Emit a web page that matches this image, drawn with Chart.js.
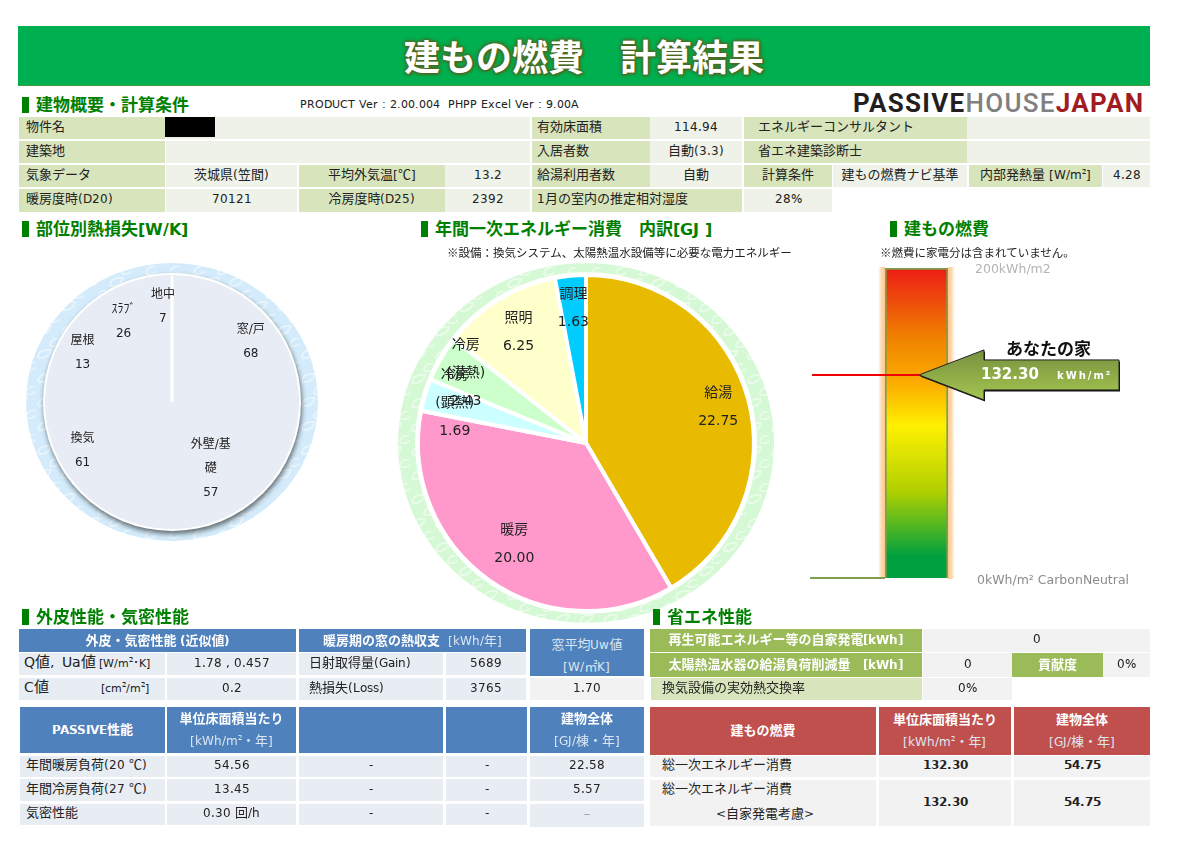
<!DOCTYPE html>
<html lang="ja">
<head>
<meta charset="utf-8">
<title>建もの燃費 計算結果</title>
<script src="https://cdn.jsdelivr.net/npm/chart.js@4"></script>
<style>
  @font-face { font-family: "LatinD"; src: local("DejaVu Sans"); size-adjust: 92%; unicode-range: U+0020-007E; }
  @font-face { font-family: "LatinD"; src: local("DejaVu Sans Bold"); font-weight: bold; size-adjust: 92%; unicode-range: U+0020-007E; }
  html, body { margin: 0; padding: 0; background: #fff; }
  #page { position: relative; width: 1200px; height: 848px; overflow: hidden;
    font-family: "LatinD", "Noto Sans CJK JP", sans-serif; font-size: 13px; color: #222; }
  canvas { position: absolute; }
  .c { position: absolute; display: flex; align-items: center; justify-content: center; padding-bottom: 2px;
    box-sizing: border-box; white-space: nowrap; text-align: center; line-height: 25px; }
  .left { justify-content: flex-start; }
  .lab { background: #d8e4bc; }
  .val { background: #eef2e8; }
  .blue { background: #4f81bd; color: #fff; font-weight: bold; line-height: 22px; padding-bottom: 0; }
  .pale { background: #e8edf4; }
  .grey { background: #f2f2f2; }
  .green { background: #9bbb59; color: #fff; font-weight: bold; padding-bottom: 0; }
  .red { background: #c0504d; color: #fff; font-weight: bold; line-height: 22px; padding-bottom: 0; }
  .unit { color: #dce6f1; font-weight: normal; }
  .sec { position: absolute; font-size: 17px; font-weight: bold; color: #008000; white-space: nowrap; line-height: 20px; }
  .mark { position: absolute; width: 7px; height: 16px; background: #008000; }
  sup { font-size: 8px; line-height: 0; }
  #banner { position: absolute; left: 18px; top: 26px; width: 1132px; height: 60px; background: #00b050;
    border-bottom: 1px solid #3a9a3a; box-sizing: border-box; text-align: center; line-height: 67px;
    font-size: 36px; font-weight: bold; color: #fff;
    text-shadow: 0 0 2px #4c6a24, 0 0 3px #4c6a24, 0 0 4px #4c6a24, 0 0 4px #4c6a24, 1px 1px 2px #4c6a24; }
  #logo { position: absolute; left: 853px; top: 88px; font: bold 26px Roboto, sans-serif; line-height: 30px;
    letter-spacing: 1.3px; white-space: nowrap; color: #231f20; }
  #logo .h { color: #808080; font-weight: 500; }
  #logo .j { color: #a01c22; }
  .note { position: absolute; font-size: 11.5px; white-space: nowrap; line-height: 14px; }
</style>
</head>
<body>
<div id="page">
  <canvas id="chart-heat" width="320" height="320" style="left:12px;top:242px"></canvas>
  <canvas id="chart-energy" width="400" height="400" style="left:386px;top:243px"></canvas>
  <canvas id="chart-gauge" width="350" height="360" style="left:800px;top:240px"></canvas>
  <div id="banner">建もの燃費　計算結果</div>
  <div id="logo">PASSIVE<span class="h">HOUSE</span><span class="j">JAPAN</span></div>
</div>
<script>
const heatLabels = ["窓/戸", "外壁/基\n礎", "換気", "屋根", "ｽﾗﾌﾞ", "地中"];
const heatValues = [68, 57, 61, 13, 26, 7];
const energyLabels = ["給湯", "暖房", "冷房\n(顕熱)", "冷房\n(潜熱)", "照明", "調理"];
const energyValues = [22.75, 20.0, 1.69, 2.43, 6.25, 1.63];
const gaugeMax = [200];
const houseValue = 132.3;

const heatLabelRadius = [99, 77, 102, 102, 94, 96];
const energyLabelRadius = [137, 124, 137, 139, 130, 135];
const energyColors = ["#e8bb00", "#ff99cc", "#ccffff", "#ccffcc", "#ffffcc", "#00ccff"];

const passiveNames = ["年間暖房負荷(20 ℃)", "年間冷房負荷(27 ℃)", "気密性能"];
const passiveUnit = ["54.56", "13.45", "0.30 回/h"];
const passiveTotal = ["22.58", "5.57", "–"];

const FONT = '"DejaVu Sans", "Noto Sans CJK JP", sans-serif';
const page = document.getElementById("page");

Chart.defaults.animation = false;
Chart.defaults.responsive = false;
Chart.defaults.font.family = FONT;
Chart.defaults.plugins.legend.display = false;
Chart.defaults.plugins.tooltip.enabled = false;

function cell(x, y, x2, y2, cls, html, pad) {
  const d = document.createElement("div");
  d.className = "c " + cls;
  d.style.cssText = `left:${x}px;top:${y}px;width:${x2 - x}px;height:${y2 - y}px;`;
  if (pad !== undefined) {
    d.classList.add("left");
    d.style.paddingLeft = pad + "px";
  }
  d.innerHTML = `<div>${html}</div>`;
  page.appendChild(d);
  return d;
}

function section(x, y, text) {
  const m = document.createElement("div");
  m.className = "mark";
  m.style.cssText = `left:${x}px;top:${y}px`;
  page.appendChild(m);
  const s = document.createElement("div");
  s.className = "sec";
  s.style.cssText = `left:${x + 14}px;top:${y - 1}px`;
  s.textContent = text;
  page.appendChild(s);
}

function note(x, y, text) {
  const n = document.createElement("div");
  n.className = "note";
  n.style.cssText = `left:${x}px;top:${y}px`;
  n.textContent = text;
  page.appendChild(n);
  return n;
}

// leaf tile for the rings behind the pies
function leafPattern(ctx, base, line) {
  const tile = document.createElement("canvas");
  tile.width = 24;
  tile.height = 24;
  const t = tile.getContext("2d");
  t.fillStyle = base;
  t.fillRect(0, 0, 24, 24);
  t.strokeStyle = line;
  t.lineWidth = 1.6;
  [[2, 20], [14, 8]].forEach(([x, y]) => {
    t.beginPath();
    t.moveTo(x, y);
    t.quadraticCurveTo(x, y - 9, x + 13, y - 8);
    t.quadraticCurveTo(x + 11, y + 1, x, y);
    t.stroke();
  });
  return ctx.createPattern(tile, "repeat");
}

const ringPlugin = {
  id: "ring",
  beforeDatasetsDraw(chart, args, opts) {
    const arc = chart.getDatasetMeta(0).data[0];
    const ctx = chart.ctx;
    ctx.save();
    ctx.fillStyle = leafPattern(ctx, opts.base, opts.line);
    ctx.beginPath();
    ctx.ellipse(arc.x, arc.y, opts.outerX, opts.outerY, 0, 0, Math.PI * 2);
    ctx.fill();
    if (opts.shadow) {
      ctx.shadowColor = "rgba(0,0,0,0.55)";
      ctx.shadowBlur = 5;
      ctx.shadowOffsetX = 1;
      ctx.shadowOffsetY = 3;
    }
    ctx.fillStyle = "#fff";
    ctx.beginPath();
    ctx.arc(arc.x, arc.y, opts.inner, 0, Math.PI * 2);
    ctx.fill();
    ctx.restore();
  },
};

const labelPlugin = {
  id: "sliceLabels",
  afterDatasetsDraw(chart, args, opts) {
    const ctx = chart.ctx;
    const meta = chart.getDatasetMeta(0);
    const { labels, datasets } = chart.data;
    ctx.save();
    if (opts.divider) {
      const a = meta.data[0];
      ctx.strokeStyle = "#fff";
      ctx.lineWidth = 3;
      ctx.beginPath();
      ctx.moveTo(a.x, a.y);
      ctx.lineTo(a.x + Math.cos(a.startAngle) * a.outerRadius, a.y + Math.sin(a.startAngle) * a.outerRadius);
      ctx.stroke();
    }
    ctx.font = `${opts.size}px ${FONT}`;
    ctx.fillStyle = "#222";
    ctx.textAlign = "center";
    ctx.textBaseline = "middle";
    meta.data.forEach((a, i) => {
      const mid = (a.startAngle + a.endAngle) / 2;
      const x = a.x + Math.cos(mid) * opts.radius[i];
      const y = a.y + Math.sin(mid) * opts.radius[i];
      const value = opts.decimals ? datasets[0].data[i].toFixed(opts.decimals) : String(datasets[0].data[i]);
      const lines = labels[i].split("\n").concat(value);
      lines.forEach((line, n) => {
        ctx.fillText(line, x, y + (n - (lines.length - 1) / 2) * opts.lineHeight);
      });
    });
    ctx.restore();
  },
};

new Chart(document.getElementById("chart-heat"), {
  type: "pie",
  data: {
    labels: heatLabels,
    datasets: [{ data: heatValues, backgroundColor: "#e8ecf4", borderColor: "#e8ecf4", borderWidth: 1 }],
  },
  options: {
    layout: { padding: 33 },
    plugins: {
      ring: { outerX: 146, outerY: 139, inner: 129, base: "#d3ebfa", line: "#e9f6fd", shadow: true },
      sliceLabels: { radius: heatLabelRadius, size: 12, lineHeight: 24, divider: true },
    },
  },
  plugins: [ringPlugin, labelPlugin],
});

new Chart(document.getElementById("chart-energy"), {
  type: "pie",
  data: {
    labels: energyLabels,
    datasets: [{ data: energyValues, backgroundColor: energyColors, borderColor: "#fff", borderWidth: 4 }],
  },
  options: {
    layout: { padding: 30 },
    plugins: {
      ring: { outerX: 188, outerY: 180, inner: 171, base: "#d5f8d5", line: "#ecfcec" },
      sliceLabels: { radius: energyLabelRadius, size: 14, lineHeight: 28, decimals: 2 },
    },
  },
  plugins: [ringPlugin, labelPlugin],
});

const gaugePlugin = {
  id: "gaugeMarks",
  beforeDatasetsDraw(chart) {
    const { ctx, chartArea: a } = chart;
    ctx.save();
    const glow = (x1, x2) => {
      const g = ctx.createLinearGradient(x1, 0, x2, 0);
      g.addColorStop(0, "#fcc88c");
      g.addColorStop(0.5, "#fdd9b0");
      g.addColorStop(1, "#ffffff");
      ctx.fillStyle = g;
      ctx.fillRect(Math.min(x1, x2), a.top - 1, Math.abs(x2 - x1), a.bottom - a.top + 2);
    };
    glow(a.left, a.left - 7);
    glow(a.right, a.right + 7);
    ctx.restore();
  },
  afterDatasetsDraw(chart) {
    const { ctx, chartArea: a, scales } = chart;
    // the pointer sits a touch under the exact value in the original sheet
    const y = scales.y.getPixelForValue(houseValue) + 2;
    const tip = a.left + 34;
    ctx.save();
    ctx.strokeStyle = "#7f9f4f";
    ctx.lineWidth = 2;
    ctx.beginPath();
    ctx.moveTo(a.left - 75, a.bottom);
    ctx.lineTo(a.left, a.bottom);
    ctx.stroke();
    ctx.strokeStyle = "#f00000";
    ctx.lineWidth = 2;
    ctx.beginPath();
    ctx.moveTo(a.left - 73, y);
    ctx.lineTo(tip, y);
    ctx.stroke();

    const arrow = (dx, dy) => {
      ctx.beginPath();
      ctx.moveTo(tip + dx, y + dy);
      ctx.lineTo(tip + 65 + dx, y - 25 + dy);
      ctx.lineTo(tip + 65 + dx, y - 15 + dy);
      ctx.lineTo(tip + 200 + dx, y - 15 + dy);
      ctx.lineTo(tip + 200 + dx, y + 15 + dy);
      ctx.lineTo(tip + 65 + dx, y + 15 + dy);
      ctx.lineTo(tip + 65 + dx, y + 25 + dy);
      ctx.closePath();
    };
    ctx.fillStyle = "#111";
    arrow(1, 1.5);
    ctx.fill();
    const g = ctx.createLinearGradient(0, y - 25, 0, y + 25);
    g.addColorStop(0, "#76903f");
    g.addColorStop(1, "#a6c650");
    ctx.fillStyle = g;
    arrow(0, 0);
    ctx.fill();
    ctx.strokeStyle = "#222";
    ctx.lineWidth = 1;
    ctx.stroke();

    ctx.textBaseline = "middle";
    ctx.textAlign = "left";
    ctx.fillStyle = "#111";
    ctx.font = `bold 17px ${FONT}`;
    ctx.fillText("あなたの家", tip + 87, y - 24);
    ctx.fillStyle = "#fff";
    ctx.font = `bold 15px ${FONT}`;
    ctx.fillText(houseValue.toFixed(2), tip + 62, y);
    ctx.font = `bold 10px ${FONT}`;
    ctx.letterSpacing = "2px";
    ctx.fillText("kWh/m²", tip + 138, y + 1);
    ctx.letterSpacing = "0px";

    ctx.fillStyle = "#b4b4b4";
    ctx.font = `12.5px ${FONT}`;
    ctx.fillText("200kWh/m2", a.right + 27, scales.y.getPixelForValue(gaugeMax[0]) + 2);
    ctx.fillStyle = "#8c8c8c";
    ctx.fillText("0kWh/m² CarbonNeutral", a.right + 29, scales.y.getPixelForValue(0) + 3);
    ctx.restore();
  },
};

function gaugeGradient(context) {
  const a = context.chart.chartArea;
  if (!a) return "#ff0";
  const g = context.chart.ctx.createLinearGradient(0, a.top, 0, a.bottom);
  g.addColorStop(0, "#ec1c16");
  g.addColorStop(0.22, "#f08000");
  g.addColorStop(0.38, "#fbb000");
  g.addColorStop(0.51, "#fff000");
  g.addColorStop(0.72, "#b0d000");
  g.addColorStop(0.93, "#00a040");
  g.addColorStop(1, "#00a040");
  return g;
}

new Chart(document.getElementById("chart-gauge"), {
  type: "bar",
  data: {
    labels: [""],
    datasets: [{ data: gaugeMax, backgroundColor: gaugeGradient, borderColor: "#7f9f4f", borderWidth: 2, barPercentage: 1, categoryPercentage: 1 }],
  },
  options: {
    layout: { padding: { left: 85, right: 202, top: 28, bottom: 22 } },
    scales: {
      x: { display: false },
      y: { display: false, min: 0, max: gaugeMax[0] },
    },
  },
  plugins: [gaugePlugin],
});

// ---- header tables
section(22, 97, "建物概要・計算条件");
note(300, 97, "PRODUCT Ver : 2.00.004  PHPP Excel Ver : 9.00A").style.whiteSpace = "pre";

cell(19, 117, 165, 139, "lab", "物件名", 7);
cell(166, 117, 530, 139, "val", "");
cell(165, 117, 215, 137, "", "").style.background = "#000";
cell(19, 141, 165, 163, "lab", "建築地", 7);
cell(166, 141, 530, 163, "val", "");
cell(19, 165, 165, 187, "lab", "気象データ", 7);
cell(166, 165, 297, 187, "val", "茨城県(笠間)");
cell(299, 165, 445, 187, "lab", "平均外気温[℃]");
cell(445, 165, 530, 187, "val", "13.2");
cell(19, 189, 165, 212, "lab", "暖房度時(D20)", 7);
cell(166, 189, 297, 212, "val", "70121");
cell(299, 189, 445, 212, "lab", "冷房度時(D25)");
cell(445, 189, 530, 212, "val", "2392");

cell(532, 117, 650, 139, "lab", "有効床面積", 5);
cell(650, 117, 742, 139, "val", "114.94");
cell(744, 117, 967, 139, "lab", "エネルギーコンサルタント", 14);
cell(967, 117, 1150, 139, "val", "");
cell(532, 141, 650, 163, "lab", "入居者数", 5);
cell(650, 141, 742, 163, "val", "自動(3.3)");
cell(744, 141, 967, 163, "lab", "省エネ建築診断士", 14);
cell(967, 141, 1150, 163, "val", "");
cell(532, 165, 650, 187, "lab", "給湯利用者数", 5);
cell(650, 165, 742, 187, "val", "自動");
cell(744, 165, 832, 187, "lab", "計算条件");
cell(833, 165, 967, 187, "val", "建もの燃費ナビ基準");
cell(969, 165, 1102, 187, "lab", "内部発熱量 [W/m<sup>2</sup>]");
cell(1103, 165, 1150, 187, "val", "4.28");
cell(532, 189, 742, 212, "lab", "1月の室内の推定相対湿度", 5);
cell(744, 189, 832, 212, "val", "28%");

section(22, 221, "部位別熱損失[W/K]");
section(421, 221, "年間一次エネルギー消費　内訳[GJ ]");
section(890, 221, "建もの燃費");
note(447, 246, "※設備：換気システム、太陽熱温水設備等に必要な電力エネルギー");
note(880, 246, "※燃費に家電分は含まれていません。");

// ---- envelope tables
section(22, 609, "外皮性能・気密性能");
cell(19, 629, 296, 652, "blue", "外皮・気密性能 (近似値)");
cell(299, 629, 526, 652, "blue", '暖房期の窓の熱収支 <span class="unit">&nbsp;[kWh/年]</span>');
cell(530, 629, 644, 676, "blue", '<span class="unit">窓平均Uw値<br>[W/㎡K]</span>').style.paddingTop = "6px";

cell(19, 653, 165, 675, "pale", '<span style="font-size:15px">Q値,&nbsp; Ua値</span>&nbsp;<span style="font-size:12px">[W/m<sup>2</sup>･K]</span>', 5);
cell(167, 653, 296, 675, "pale", "1.78 , 0.457");
cell(299, 653, 443, 675, "pale", "日射取得量(Gain)", 10);
cell(446, 653, 526, 675, "pale", "5689");
cell(19, 678, 165, 700, "pale", '<span style="font-size:15px">C値</span><span style="font-size:12px;margin-left:52px">[cm<sup>2</sup>/m<sup>2</sup>]</span>', 5);
cell(167, 678, 296, 700, "pale", "0.2");
cell(299, 678, 443, 700, "pale", "熱損失(Loss)", 10);
cell(446, 678, 526, 700, "pale", "3765");
cell(530, 678, 644, 700, "grey", "1.70");

cell(20, 707, 165, 753, "blue", "PASSIVE性能");
cell(167, 707, 296, 753, "blue", '単位床面積当たり<br><span class="unit">[kWh/m<sup>2</sup>・年]</span>');
cell(299, 707, 443, 753, "blue", "");
cell(446, 707, 527, 753, "blue", "");
cell(530, 707, 644, 753, "blue", '建物全体<br><span class="unit">[GJ/棟・年]</span>');

const passiveRows = [[756, 777], [779, 801], [804, 825]];
passiveRows.forEach(([top, bottom], i) => {
  cell(20, top, 165, bottom, "pale", passiveNames[i], 6);
  cell(167, top, 296, bottom, "pale", passiveUnit[i]);
  cell(299, top, 443, bottom, "pale", "-");
  cell(446, top, 527, bottom, "pale", "-");
  const total = cell(530, top, 644, i === 2 ? 827 : bottom, "pale", passiveTotal[i]);
  if (i === 2) total.style.color = "#999";
});

// ---- energy saving tables
section(653, 609, "省エネ性能");
cell(650, 629, 922, 652, "green", "再生可能エネルギー等の自家発電[kWh]");
cell(923, 629, 1150, 652, "grey", "0");
cell(650, 653, 922, 677, "green", "太陽熱温水器の給湯負荷削減量　[kWh]");
cell(923, 653, 1012, 677, "grey", "0");
cell(1012, 653, 1103, 677, "green", "貢献度");
cell(1103, 653, 1150, 677, "grey", "0%");
cell(651, 678, 922, 700, "lab", "換気設備の実効熱交換率", 11);
cell(923, 678, 1012, 700, "grey", "0%");

cell(650, 707, 876, 755, "red", "建もの燃費");
cell(879, 707, 1011, 755, "red", '単位床面積当たり<br><span class="unit">[kWh/m<sup>2</sup>・年]</span>');
cell(1014, 707, 1150, 755, "red", '建物全体<br><span class="unit">[GJ/棟・年]</span>');
cell(650, 756, 876, 777, "grey", "総一次エネルギー消費", 12);
cell(879, 756, 1011, 777, "grey", "<b>132.30</b>");
cell(1014, 756, 1150, 777, "grey", "<b>54.75</b>");
cell(650, 780, 876, 826, "grey", '<div style="text-align:left">総一次エネルギー消費<br><span style="margin-left:54px">&lt;自家発電考慮&gt;</span></div>', 12);
cell(879, 780, 1011, 826, "grey", "<b>132.30</b>");
cell(1014, 780, 1150, 826, "grey", "<b>54.75</b>");
</script>
</body>
</html>
